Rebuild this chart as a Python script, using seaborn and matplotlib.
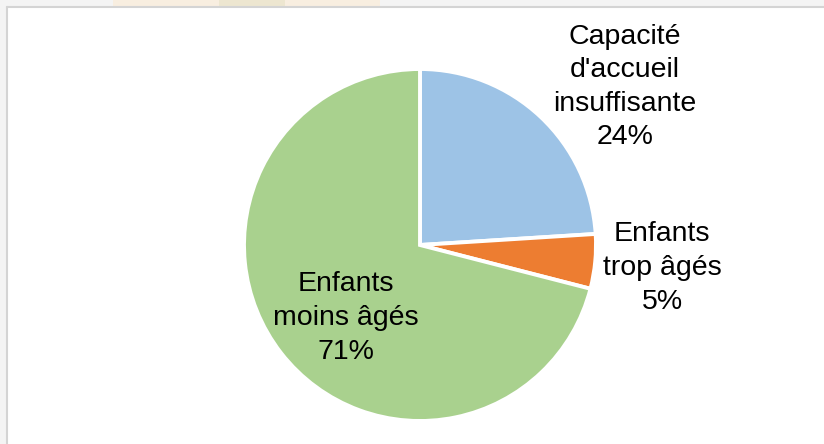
import numpy as np
import pandas as pd
import matplotlib
matplotlib.use('Agg')
import matplotlib.pyplot as plt
import seaborn as sns
from matplotlib.patches import Rectangle

# data
labels = ["Capacité\nd'accueil\ninsuffisante", "Enfants\ntrop âgés", "Enfants\nmoins âgés"]
shares = [24, 5, 71]
colors = ["#9DC3E6", "#ED7D31", "#A9D18E"]

sns.set_theme(style="white")
plt.rcParams['font.family'] = ['Liberation Sans', 'DejaVu Sans']

W, H = 824, 444
fig = plt.figure(figsize=(W / 100, H / 100), dpi=100)
fig.patch.set_facecolor("white")

# page frame around the chart (light gray margin + border line)
fig.patches.append(Rectangle((0, 1 - 7 / H), 1, 7 / H, transform=fig.transFigure,
                             facecolor="#f4f4f4", edgecolor="none", zorder=0))
fig.patches.append(Rectangle((0, 0), 7 / W, 1, transform=fig.transFigure,
                             facecolor="#f4f4f4", edgecolor="none", zorder=0))
fig.patches.append(Rectangle((113 / W, 1 - 7 / H), (380 - 113) / W, 7 / H, transform=fig.transFigure,
                             facecolor="#f8eee0", edgecolor="none", zorder=1))
fig.patches.append(Rectangle((219 / W, 1 - 7 / H), (285 - 219) / W, 7 / H, transform=fig.transFigure,
                             facecolor="#ede6d0", edgecolor="none", zorder=1))
fig.lines.append(plt.Line2D([7.5 / W, 7.5 / W], [0, 1 - 7.5 / H], transform=fig.transFigure,
                            color="#d4d4d4", lw=1.5))
fig.lines.append(plt.Line2D([7.5 / W, 1], [1 - 7.5 / H, 1 - 7.5 / H], transform=fig.transFigure,
                            color="#d4d4d4", lw=1.5))

ax = fig.add_axes([0, 0, 1, 1])

cx, cy, r = 420, H - 245, 176
wedges, _ = ax.pie(shares, colors=colors, startangle=90, counterclock=False,
                   center=(cx, cy), radius=r, frame=True,
                   wedgeprops=dict(edgecolor="white", linewidth=2.8))
ax.set_xlim(0, W)
ax.set_ylim(0, H)
ax.set_aspect('equal')
ax.axis('off')

# label positions (pixel layout from the reference)
label_pos = [(625, 87), (662, 268), (346, 318)]
for lab, val, (x, y) in zip(labels, shares, label_pos):
    ax.text(x, H - y, f"{lab}\n{val}%", ha="center", va="center",
            fontsize=20.5, color="black", linespacing=1.38)

fig.savefig("out.png", dpi=100)
